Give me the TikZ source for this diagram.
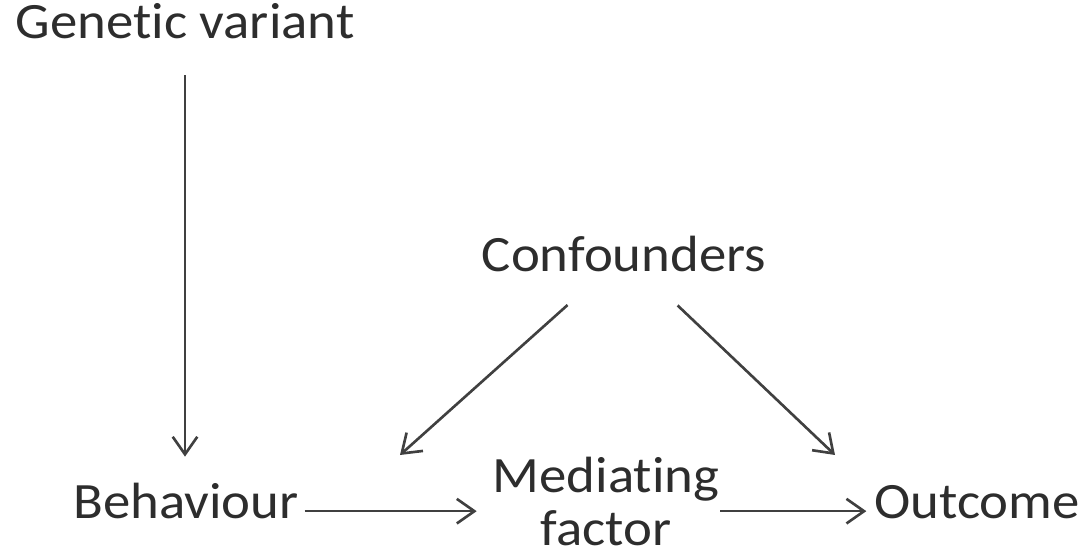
\documentclass[tikz,border=0pt]{standalone}
\usepackage{fontspec}
\setmainfont[FakeStretch=1.075,Ligatures=NoCommon]{Carlito}
\usetikzlibrary{arrows.meta}
\definecolor{txt}{RGB}{45,45,45}
\definecolor{arr}{RGB}{64,64,64}
\tikzset{
  lbl/.style={inner sep=0pt,outer sep=0pt,text=txt,font=\fontsize{29}{30.7}\selectfont},
  link/.style={arr,line width=1.5pt,-{Straight Barb[length=10pt,width=14pt,line width=1.5pt]}}
}
\begin{document}
\begin{tikzpicture}[x=0.02cm,y=-0.02cm]
\useasboundingbox (0,0) rectangle (1085,560);
\node[lbl,anchor=base] (gen) at (185,39) {Genetic variant};
\node[lbl,anchor=base] (conf) at (624,272) {Confounders};
\node[lbl,anchor=base] (beh) at (186,518) {Behaviour};
\node[lbl,align=center] (med) at (606,501.5) {Mediating\\factor};
\node[lbl,anchor=base] (out) at (977,518) {Outcome};
\coordinate (ml) at (400,455);
\coordinate (or) at (835,455);
% genetic variant acts on behaviour
\draw[link,shorten <=0.72cm,shorten >=0.52cm] (gen) -- (gen |- beh.north);
% confounders
\draw[link,shorten <=0.98cm] (conf) -- (ml);
\draw[link,shorten <=0.96cm] (conf) -- (or);
% causal chain
\draw[link,shorten <=0.12cm,shorten >=0.32cm] ([yshift=1.5pt]beh.mid east) -- ([yshift=1.5pt]beh.mid east -| med.west);
\draw[link,shorten <=0.02cm,shorten >=0.16cm] ([yshift=1.5pt]med.east |- out.mid west) -- ([yshift=1.5pt]out.mid west);
\end{tikzpicture}
\end{document}
